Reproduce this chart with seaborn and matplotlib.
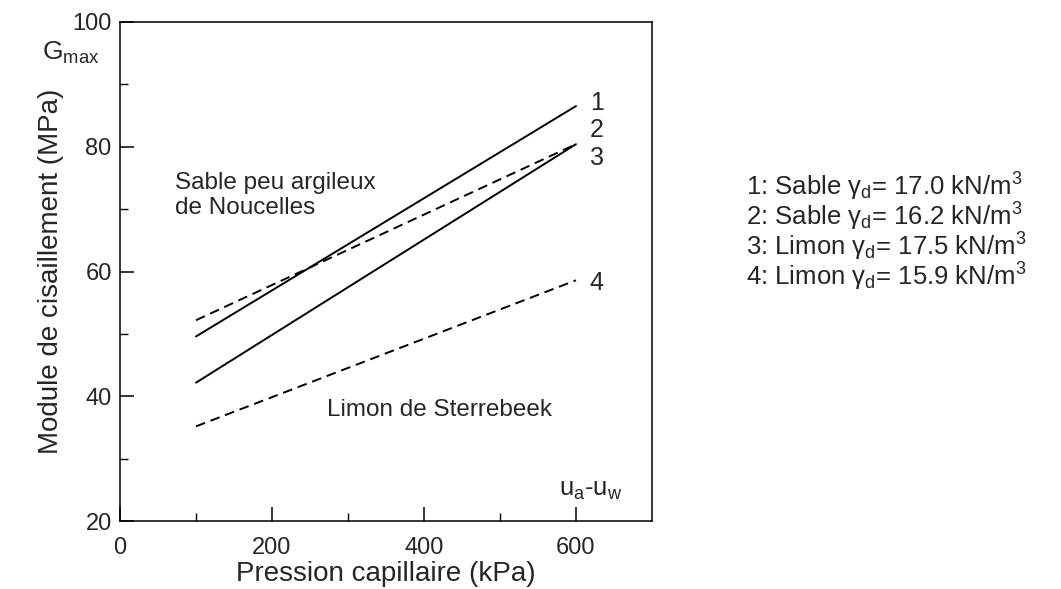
import numpy as np
import pandas as pd
import matplotlib
matplotlib.use("Agg")
import matplotlib.pyplot as plt
import seaborn as sns

# data
pressure = [100, 600]
curve_ids = ["1", "2", "3", "4"]
g_start = [49.6, 52.2, 42.2, 35.2]
g_end = [86.5, 80.4, 80.4, 58.6]
curve_style = ["solid", "dashed", "solid", "dashed"]
label_y = [87.0, 82.7, 78.2, 58.1]
legend_lines = [
    r"1: Sable $\gamma_d$= 17.0 kN/m$^3$",
    r"2: Sable $\gamma_d$= 16.2 kN/m$^3$",
    r"3: Limon $\gamma_d$= 17.5 kN/m$^3$",
    r"4: Limon $\gamma_d$= 15.9 kN/m$^3$",
]

rows = []
for cid, a, b, st in zip(curve_ids, g_start, g_end, curve_style):
    rows.append({"x": pressure[0], "G": a, "curve": cid, "style": st})
    rows.append({"x": pressure[1], "G": b, "curve": cid, "style": st})
df = pd.DataFrame(rows)

sns.set_theme(style="ticks")
plt.rcParams["font.family"] = ["Liberation Sans", "DejaVu Sans"]
plt.rcParams["mathtext.fontset"] = "custom"
plt.rcParams["mathtext.rm"] = "Liberation Sans"
plt.rcParams["mathtext.it"] = "Liberation Sans"

fig = plt.figure(figsize=(10.61, 5.89), dpi=100)
ax = fig.add_axes([0.1131, 0.1150, 0.5014, 0.8480])

sns.lineplot(data=df, x="x", y="G", units="curve", estimator=None,
             style="style", dashes={"solid": "", "dashed": (5, 3)},
             color="black", linewidth=1.4, legend=False, ax=ax)

ax.set_xlim(0, 700)
ax.set_ylim(20, 100)
ax.set_xticks([0, 200, 400, 600])
ax.set_yticks([20, 40, 60, 80, 100])
ax.set_xticks([100, 300, 500], minor=True)
ax.set_yticks([30, 50, 70, 90], minor=True)
ax.tick_params(which="major", direction="in", length=10, width=1.1, labelsize=17, color="black")
ax.tick_params(which="minor", direction="in", length=6, width=1, color="black")
ax.tick_params(axis="x", which="major", pad=11)
ax.tick_params(axis="y", which="major", pad=6)
for s in ax.spines.values():
    s.set_color("black")
    s.set_linewidth(1.1)

ax.set_xlabel("Pression capillaire (kPa)", fontsize=20, labelpad=2)
ax.set_ylabel("Module de cisaillement (MPa)", fontsize=20, labelpad=6)

# curve numbers at line ends
for cid, y in zip(curve_ids, label_y):
    ax.text(618, y, cid, fontsize=18, va="center", ha="left")

ax.text(-102, 95, r"G$_{\mathrm{max}}$", fontsize=19, va="center", ha="left")
ax.text(72, 72.2, "Sable peu argileux\nde Noucelles", fontsize=17.5, va="center",
        ha="left", linespacing=1.15)
ax.text(272, 37.8, "Limon de Sterrebeek", fontsize=17.5, va="center", ha="left")
ax.text(578, 25.0, r"u$_\mathrm{a}$-u$_\mathrm{w}$", fontsize=18.5, va="center", ha="left")

for i, t in enumerate(legend_lines):
    fig.text(0.703, 1 - (187 + 30 * i) / 589, t, fontsize=18.5, va="center", ha="left")

fig.savefig("out.png", dpi=100)
